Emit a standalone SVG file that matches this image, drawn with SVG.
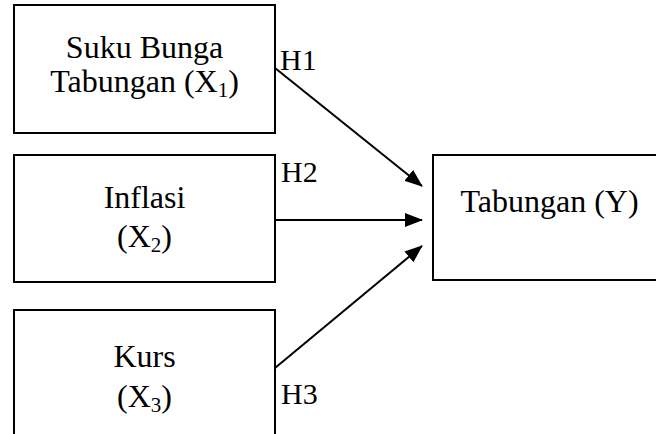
<svg xmlns="http://www.w3.org/2000/svg" width="656" height="434" viewBox="0 0 656 434">
  <style>
    .box { fill: #ffffff; stroke: #000000; stroke-width: 2; }
    .lbl { font-family: "Liberation Serif", "Times New Roman", serif; font-size: 32px; fill: #000000; }
    .hyp { font-size: 30px; }
    .mid { text-anchor: middle; }
    .sub { font-size: 21px; }
    .edge { fill: none; stroke: #000000; stroke-width: 2; marker-end: url(#arrow); }
  </style>
  <defs>
    <marker id="arrow" markerUnits="userSpaceOnUse" markerWidth="18" markerHeight="14" viewBox="0 0 18 14" refX="17" refY="7" orient="auto">
      <path d="M0,0 L18,7 L0,14 Z" fill="#000000"/>
    </marker>
  </defs>
  <rect width="656" height="434" fill="#ffffff"/>

  <g id="x1">
    <rect class="box" x="14" y="5" width="261" height="128"/>
    <text class="lbl mid" x="144.5" y="58">Suku Bunga</text>
    <text class="lbl mid" x="144.5" y="92">Tabungan (X<tspan class="sub" dy="5">1</tspan><tspan dy="-5">)</tspan></text>
  </g>

  <g id="x2">
    <rect class="box" x="14" y="155" width="261" height="127"/>
    <text class="lbl mid" x="144.5" y="208">Inflasi</text>
    <text class="lbl mid" x="144.5" y="247">(X<tspan class="sub" dy="5">2</tspan><tspan dy="-5">)</tspan></text>
  </g>

  <g id="x3">
    <rect class="box" x="14" y="310" width="261" height="140"/>
    <text class="lbl mid" x="144.5" y="367">Kurs</text>
    <text class="lbl mid" x="144.5" y="407">(X<tspan class="sub" dy="5">3</tspan><tspan dy="-5">)</tspan></text>
  </g>

  <g id="y">
    <rect class="box" x="433" y="155" width="232" height="125"/>
    <text class="lbl mid" x="549.5" y="212">Tabungan (Y)</text>
  </g>

  <g id="connectors">
    <line class="edge" x1="275" y1="68" x2="422" y2="186"/>
    <line class="edge" x1="275" y1="220" x2="422" y2="220"/>
    <line class="edge" x1="275" y1="368" x2="422" y2="246"/>
    <text class="lbl hyp" x="280" y="70">H1</text>
    <text class="lbl hyp" x="281" y="182">H2</text>
    <text class="lbl hyp" x="281" y="404">H3</text>
  </g>
</svg>
